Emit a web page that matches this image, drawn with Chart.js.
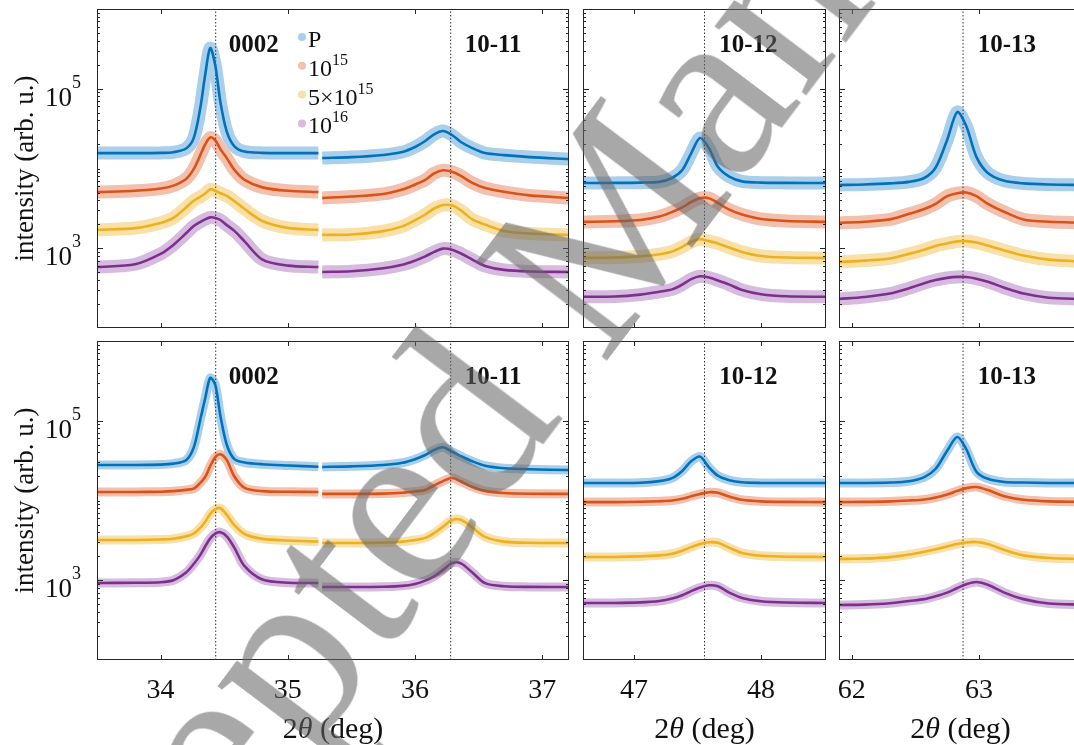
<!DOCTYPE html>
<html>
<head>
<meta charset="utf-8">
<script src="https://cdn.jsdelivr.net/npm/chart.js@4.4.1/dist/chart.umd.min.js"></script>
<style>
  html, body { margin: 0; padding: 0; background: #fff; overflow: hidden; width: 1074px; height: 745px; }
  canvas { position: absolute; left: 0; top: 0; }
  #wm {
    position: absolute; left: -3px; top: 961px;
    font: 250px "Liberation Serif", serif; line-height: 250px;
    color: rgba(100, 100, 100, 0.56); white-space: nowrap;
    transform-origin: 0 209px; transform: rotate(-53deg);
    pointer-events: none;
  }
</style>
</head>
<body>
<canvas id="c1" width="1100" height="745"></canvas>
<canvas id="c2" width="1100" height="745"></canvas>
<canvas id="c3" width="1100" height="745"></canvas>
<canvas id="c4" width="1100" height="745"></canvas>
<canvas id="c5" width="1100" height="745"></canvas>
<canvas id="c6" width="1100" height="745"></canvas>
<div id="wm">Accepted Manuscript</div>
<script>
// series: P, 1e15, 5e15, 1e16
const seriesLabels = [["P", ""], ["10", "15"], ["5\u00d710", "15"], ["10", "16"]];
const lineColors = ["#0072BD", "#D95319", "#EDB120", "#7E2F8E"];
const bandColors = ["#a9cfea", "#f2c0ad", "#f8e0a8", "#d5bbdd"];

// 2theta grids (deg) for each reflection
const xs0002 = [33.5, 33.8, 34.0, 34.1, 34.2, 34.26, 34.31, 34.35, 34.39, 34.43, 34.47, 34.52, 34.58, 34.66, 34.8, 35.0, 35.24];
const xs1011 = [35.27, 35.5, 35.75, 35.9, 36.0, 36.08, 36.15, 36.22, 36.29, 36.36, 36.45, 36.55, 36.7, 36.9, 37.21];
const xs1012 = [46.6, 46.85, 47.05, 47.2, 47.3, 47.38, 47.45, 47.52, 47.59, 47.66, 47.75, 47.85, 48.0, 48.2, 48.51];
const xs1013 = [61.9, 62.1, 62.3, 62.45, 62.57, 62.66, 62.75, 62.83, 62.9, 62.98, 63.07, 63.2, 63.35, 63.55, 63.81];

// top row intensities (arb. u.), one row per series
const top0002 = [
  [15600, 15600, 15700, 16000, 17800, 24000, 55000, 148000, 324000, 195000, 68000, 29000, 19000, 16300, 15700, 15600, 15600],
  [5070, 5250, 5600, 6100, 7400, 9800, 14500, 20000, 24500, 22500, 17500, 13500, 9600, 7200, 5800, 5250, 5070],
  [1700, 1790, 2080, 2400, 3250, 3950, 4400, 4850, 5500, 5250, 4900, 4550, 3900, 3100, 2200, 1800, 1700],
  [582, 630, 850, 1100, 1540, 1900, 2130, 2300, 2440, 2400, 2260, 1950, 1650, 1220, 720, 605, 582]
];
const top1011 = [
  [13550, 13900, 14800, 16100, 18600, 22100, 26800, 29500, 26300, 21500, 18000, 15600, 14700, 13900, 13150],
  [4270, 4450, 4800, 5450, 6300, 7200, 8700, 9500, 9100, 8100, 6600, 5700, 5100, 4600, 4270],
  [1470, 1490, 1640, 1880, 2250, 2650, 3150, 3480, 3450, 2980, 2300, 1980, 1650, 1530, 1470],
  [504, 515, 560, 620, 700, 790, 900, 990, 960, 860, 720, 600, 535, 512, 504]
];
const top1012 = [
  [6580, 6600, 6650, 6800, 7600, 9560, 15500, 24100, 18000, 10500, 7900, 6900, 6650, 6600, 6580],
  [2140, 2180, 2260, 2500, 2850, 3250, 3800, 4250, 4250, 3700, 3050, 2650, 2330, 2200, 2140],
  [755, 765, 790, 840, 910, 1040, 1200, 1300, 1230, 1150, 1020, 900, 800, 765, 755],
  [246, 248, 262, 285, 305, 350, 410, 445, 430, 395, 350, 300, 265, 250, 246]
];
const top1013 = [
  [6210, 6300, 6500, 6800, 7600, 10300, 22800, 51000, 34000, 14000, 8800, 7000, 6500, 6300, 6210],
  [2080, 2150, 2300, 2700, 3100, 3600, 4500, 4900, 5000, 4500, 3600, 2850, 2300, 2150, 2090],
  [672, 700, 745, 850, 960, 1070, 1150, 1220, 1230, 1180, 1080, 940, 810, 720, 680],
  [231, 245, 270, 315, 365, 400, 425, 437, 435, 415, 380, 320, 270, 240, 231]
];

// bottom row intensities
const bot0002 = [
  [27900, 27900, 28200, 29000, 32000, 46000, 100000, 190000, 345000, 280000, 115000, 50000, 33000, 30000, 28500, 27500, 26500],
  [12800, 12800, 12900, 13100, 13600, 14100, 16500, 19700, 27000, 35000, 38000, 32200, 20000, 14400, 13100, 12850, 12800],
  [3200, 3200, 3250, 3320, 3550, 3850, 4500, 5400, 6800, 7800, 8000, 6600, 4900, 3800, 3300, 3150, 3050],
  [925, 930, 945, 1000, 1250, 1600, 2050, 2650, 3350, 3850, 4000, 3550, 2550, 1500, 1020, 930, 925]
];
const bot1011 = [
  [26300, 26800, 27900, 29700, 33000, 37200, 43000, 46500, 41000, 36000, 31000, 27300, 25400, 24600, 24100],
  [12100, 12100, 12200, 12500, 13000, 13550, 15500, 17500, 19150, 17300, 14800, 13200, 12400, 12150, 12100],
  [2930, 2930, 2960, 3050, 3200, 3400, 3900, 4700, 5700, 5750, 4600, 3500, 3050, 2950, 2930],
  [822, 822, 830, 850, 900, 990, 1120, 1350, 1640, 1630, 1250, 920, 840, 825, 822]
];
const bot1012 = [
  [16600, 16600, 16700, 17500, 19100, 23500, 31000, 35500, 26000, 20500, 18000, 16900, 16600, 16600, 16600],
  [9550, 9550, 9650, 9800, 10000, 10500, 11300, 12100, 12700, 12500, 11200, 10200, 9750, 9600, 9550],
  [1960, 1960, 1990, 2050, 2150, 2350, 2600, 2850, 3000, 2950, 2550, 2200, 2030, 1970, 1960],
  [519, 519, 528, 550, 590, 650, 730, 810, 865, 840, 700, 600, 545, 525, 519]
];
const bot1013 = [
  [16600, 16600, 16800, 17400, 19600, 25000, 42000, 62500, 44000, 23000, 18700, 17100, 16800, 16600, 16600],
  [9550, 9600, 9750, 10000, 10300, 10900, 11900, 13200, 14300, 14750, 13500, 11300, 10200, 9750, 9600],
  [1850, 1870, 1950, 2100, 2280, 2450, 2650, 2850, 2980, 3020, 2850, 2400, 2050, 1900, 1850],
  [490, 495, 515, 550, 580, 630, 700, 800, 890, 950, 880, 700, 580, 510, 495]
];

// dotted reference positions and reflection names
const refLines0002 = 34.433, refLines1011 = 36.28, refLines1012 = 47.555, refLines1013 = 62.875;
const peakNames = ["0002", "10-11", "10-12", "10-13"];
const peakNameX = [34.535, 36.39, 47.67, 62.99];

const FONT = '"Liberation Serif", "Times New Roman", serif';
const TEXT = "#111";

function sectionSets(xs, rows, bandW) {
  const out = [];
  rows.forEach((vals, s) => {
    const pts = xs.map((x, i) => ({ x: x, y: vals[i] }));
    out.push({ data: pts, borderColor: bandColors[s], borderWidth: bandW, pointRadius: 0,
      tension: 0.3, order: 3, clip: 0 });
    out.push({ data: pts, borderColor: lineColors[s], borderWidth: 2.6, pointRadius: 0,
      tension: 0.3, order: 1, clip: 0 });
  });
  return out;
}

function refSet(x) {
  return { data: [{ x: x, y: 100 }, { x: x, y: 1e6 }], borderColor: "#333", borderWidth: 1,
    borderDash: [1.5, 2], pointRadius: 0, order: 2 };
}

function drawSup(ctx, x, y, base, sup, baseSize, supSize, raise, align) {
  ctx.font = baseSize + "px " + FONT;
  const bw = ctx.measureText(base).width;
  ctx.font = supSize + "px " + FONT;
  const sw = sup ? ctx.measureText(sup).width : 0;
  let x0 = x;
  if (align === "right") x0 = x - bw - sw;
  ctx.textAlign = "left";
  ctx.textBaseline = "alphabetic";
  ctx.font = baseSize + "px " + FONT;
  ctx.fillText(base, x0, y);
  if (sup) {
    ctx.font = supSize + "px " + FONT;
    ctx.fillText(sup, x0 + bw, y - raise);
  }
}

const framePlugin = {
  id: "frame",
  afterDatasetsDraw(chart) {
    const o = chart.options.plugins.frame;
    const { ctx, chartArea: a, scales: { x, y } } = chart;
    ctx.save();
    ctx.strokeStyle = "#262626";
    ctx.lineWidth = 1;
    ctx.strokeRect(a.left + 0.5, a.top + 0.5, a.right - a.left - 1, a.bottom - a.top - 1);
    ctx.beginPath();
    for (let v = Math.ceil(x.min); v <= x.max; v++) {
      const px = Math.round(x.getPixelForValue(v)) + 0.5;
      ctx.moveTo(px, a.bottom); ctx.lineTo(px, a.bottom - 5);
      ctx.moveTo(px, a.top); ctx.lineTo(px, a.top + 5);
    }
    for (let d = 2; d < 6; d++) {
      for (let m = 1; m < 10; m++) {
        if (d === 2 && m === 1) continue;
        const v = m * Math.pow(10, d);
        const len = (m === 1 && d % 2 === 1) ? 6 : 3;
        const py = Math.round(y.getPixelForValue(v)) + 0.5;
        ctx.moveTo(a.left, py); ctx.lineTo(a.left + len, py);
        ctx.moveTo(a.right, py); ctx.lineTo(a.right - len, py);
      }
    }
    ctx.stroke();

    ctx.fillStyle = TEXT;
    if (o.xLabels) {
      ctx.font = "28px " + FONT;
      ctx.textAlign = "center";
      ctx.textBaseline = "alphabetic";
      for (let v = Math.ceil(x.min); v <= x.max; v++) {
        ctx.fillText(String(v), x.getPixelForValue(v), 698);
      }
      // axis title: 2θ (deg)
      const parts = [["2", ""], ["\u03b8", "italic "], [" (deg)", ""]];
      let total = 0;
      parts.forEach(p => { ctx.font = p[1] + "30px " + FONT; total += ctx.measureText(p[0]).width; });
      let cx = (a.left + a.right) / 2 - total / 2;
      ctx.textAlign = "left";
      parts.forEach(p => {
        ctx.font = p[1] + "30px " + FONT;
        ctx.fillText(p[0], cx, 738);
        cx += ctx.measureText(p[0]).width;
      });
    }
    if (o.yLabels) {
      [1e3, 1e5].forEach(v => {
        const py = y.getPixelForValue(v);
        drawSup(ctx, a.left - 25, py + 17, "10", "", 27, 18, 0, "right");
        ctx.font = "18px " + FONT;
        ctx.textAlign = "left";
        ctx.fillText(String(Math.log10(v)), a.left - 25, py - 1);
      });
      ctx.save();
      ctx.translate(26, (a.top + a.bottom) / 2);
      ctx.rotate(-Math.PI / 2);
      ctx.font = "27px " + FONT;
      ctx.textAlign = "center";
      ctx.textBaseline = "middle";
      ctx.fillText("intensity (arb. u.)", 0, 0);
      ctx.restore();
    }
    ctx.font = "bold 25px " + FONT;
    ctx.textAlign = "left";
    ctx.textBaseline = "alphabetic";
    o.names.forEach(n => {
      ctx.fillText(peakNames[n], x.getPixelForValue(peakNameX[n]), a.top + 43);
    });
    if (o.legend) {
      seriesLabels.forEach((lab, s) => {
        const my = 37 + s * 28.8;
        ctx.fillStyle = bandColors[s];
        ctx.beginPath();
        ctx.arc(302, my, 4, 0, Math.PI * 2);
        ctx.fill();
        ctx.fillStyle = TEXT;
        drawSup(ctx, 308, my + 10, lab[0], lab[1], 24, 16, 11, "left");
      });
    }
    ctx.restore();
  }
};

function makePanel(id, area, xMin, xMax, datasets, frameOpts) {
  new Chart(document.getElementById(id), {
    type: "line",
    data: { datasets: datasets },
    plugins: [framePlugin],
    options: {
      responsive: false,
      animation: false,
      events: [],
      layout: { padding: { left: area[0], top: area[1], right: 1100 - area[2], bottom: 745 - area[3] } },
      scales: {
        x: { type: "linear", min: xMin, max: xMax, display: false },
        y: { type: "logarithmic", min: 100, max: 1e6, display: false }
      },
      plugins: { legend: { display: false }, tooltip: { enabled: false }, frame: frameOpts }
    }
  });
}

const TOP = [9, 328], BOT = [341, 660];
const COL1 = [97, 569], COL2 = [583, 826], COL3 = [839, 1082];

makePanel("c1", [COL1[0], TOP[0], COL1[1], TOP[1]], 33.5, 37.21,
  [...sectionSets(xs0002, top0002, 13), ...sectionSets(xs1011, top1011, 13), refSet(refLines0002), refSet(refLines1011)],
  { xLabels: false, yLabels: true, names: [0, 1], legend: true });
makePanel("c2", [COL2[0], TOP[0], COL2[1], TOP[1]], 46.6, 48.51,
  [...sectionSets(xs1012, top1012, 13), refSet(refLines1012)],
  { xLabels: false, yLabels: false, names: [2], legend: false });
makePanel("c3", [COL3[0], TOP[0], COL3[1], TOP[1]], 61.9, 63.81,
  [...sectionSets(xs1013, top1013, 13), refSet(refLines1013)],
  { xLabels: false, yLabels: false, names: [3], legend: false });
makePanel("c4", [COL1[0], BOT[0], COL1[1], BOT[1]], 33.5, 37.21,
  [...sectionSets(xs0002, bot0002, 9), ...sectionSets(xs1011, bot1011, 9), refSet(refLines0002), refSet(refLines1011)],
  { xLabels: true, yLabels: true, names: [0, 1], legend: false });
makePanel("c5", [COL2[0], BOT[0], COL2[1], BOT[1]], 46.6, 48.51,
  [...sectionSets(xs1012, bot1012, 9), refSet(refLines1012)],
  { xLabels: true, yLabels: false, names: [2], legend: false });
makePanel("c6", [COL3[0], BOT[0], COL3[1], BOT[1]], 61.9, 63.81,
  [...sectionSets(xs1013, bot1013, 9), refSet(refLines1013)],
  { xLabels: true, yLabels: false, names: [3], legend: false });
</script>
</body>
</html>
